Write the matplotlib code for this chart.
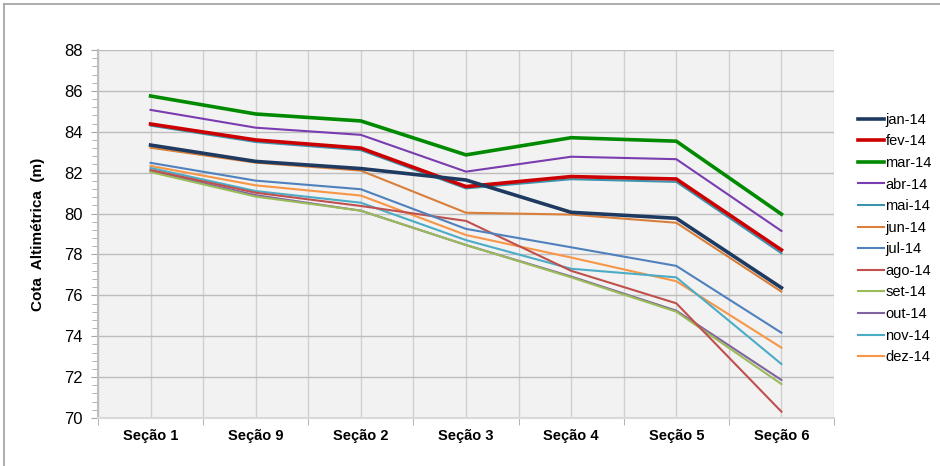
import matplotlib.pyplot as plt
import numpy as np
from matplotlib.ticker import MultipleLocator
from matplotlib.lines import Line2D

secoes = ["Seção 1", "Seção 9", "Seção 2", "Seção 3", "Seção 4", "Seção 5", "Seção 6"]

jan = [83.35, 82.55, 82.20, 81.64, 80.06, 79.77, 76.37]
fev = [84.38, 83.60, 83.20, 81.32, 81.81, 81.69, 78.22]
mar = [85.75, 84.87, 84.53, 82.87, 83.71, 83.54, 79.97]
abr = [85.07, 84.20, 83.85, 82.05, 82.78, 82.66, 79.15]
mai = [84.30, 83.50, 83.10, 81.23, 81.68, 81.55, 78.06]
jun = [83.22, 82.49, 82.10, 80.04, 79.95, 79.55, 76.18]
jul = [82.48, 81.61, 81.19, 79.25, 78.35, 77.44, 74.17]
ago = [82.13, 81.02, 80.37, 79.64, 77.20, 75.61, 70.31]
set_ = [82.03, 80.83, 80.14, 78.46, 76.88, 75.20, 71.66]
out = [82.08, 80.90, 80.14, 78.46, 76.92, 75.25, 71.86]
nov = [82.23, 81.10, 80.53, 78.70, 77.30, 76.88, 72.64]
dez = [82.33, 81.38, 80.88, 78.95, 77.85, 76.69, 73.44]

series = [
    ("jan-14", jan, "#1F3A60", 2.6),
    ("fev-14", fev, "#CC0000", 2.6),
    ("mar-14", mar, "#008A00", 2.6),
    ("abr-14", abr, "#7A3DB0", 1.5),
    ("mai-14", mai, "#3C93AE", 1.5),
    ("jun-14", jun, "#D97F3A", 1.5),
    ("jul-14", jul, "#4F81BD", 1.5),
    ("ago-14", ago, "#C0504D", 1.5),
    ("set-14", set_, "#9BBB59", 1.5),
    ("out-14", out, "#8064A2", 1.5),
    ("nov-14", nov, "#4BACC6", 1.5),
    ("dez-14", dez, "#F79646", 1.5),
]

plt.rcParams['font.family'] = ['Liberation Sans', 'DejaVu Sans']

fig = plt.figure(figsize=(9.4, 4.66), dpi=100)
ax = fig.add_axes([98 / 940, 1 - 418 / 466, (834 - 98) / 940, (418 - 50) / 466])
ax.set_facecolor("#F2F2F2")

x = np.arange(len(secoes))
# draw from last to first so the thick series sit on top
for nome, vals, cor, lw in reversed(series):
    ax.plot(x, vals, color=cor, lw=lw, label=nome, solid_joinstyle="miter")

ax.set_xlim(-0.5, len(secoes) - 0.5)
ax.set_ylim(70, 88)
ax.yaxis.set_major_locator(MultipleLocator(2))
ax.yaxis.set_minor_locator(MultipleLocator(0.4))
ax.set_xticks(x)
ax.set_xticklabels(secoes, fontweight="bold", fontsize=10.5)
ax.set_xticks(np.arange(-0.5, len(secoes), 1.0), minor=True)
ax.tick_params(axis="x", which="major", length=0, pad=8)
ax.tick_params(axis="x", which="minor", length=5, color="#A6A6A6", direction="out")
ax.tick_params(axis="y", which="major", length=5, color="#A6A6A6", labelsize=12, pad=6)
ax.tick_params(axis="y", which="minor", length=4, color="#A6A6A6")

# grid
for v in np.arange(-0.5, len(secoes), 0.5):
    ax.axvline(v, color="#CFCFCF", lw=1.0, zorder=0)
ax.grid(axis="y", which="major", color="#BDBDBD", lw=1.0, zorder=0)
ax.set_axisbelow(True)

for s in ["top", "right"]:
    ax.spines[s].set_visible(False)
ax.spines["left"].set_color("#BFBFBF")
ax.spines["left"].set_linewidth(1.5)
ax.spines["bottom"].set_color("#D9D9D9")
ax.spines["bottom"].set_linewidth(1.5)

ax.set_ylabel("Cota  Altimétrica  (m)", fontweight="bold", fontsize=11, labelpad=14)

handles = [Line2D([], [], color=c, lw=lw) for _, _, c, lw in series]
labels = [n for n, _, _, _ in series]
leg = fig.legend(handles, labels, loc="upper left", bbox_to_anchor=(852 / 940, 1 - 107 / 466),
                 frameon=False, fontsize=10.5, handlelength=1.8, handletextpad=0.1,
                 labelspacing=0.52, borderaxespad=0)

# outer chart frame (top and left edges visible)
fig.add_artist(Line2D([4 / 940, 1], [1 - 4 / 466, 1 - 4 / 466], color="#A0A0A0", lw=1.2))
fig.add_artist(Line2D([4 / 940, 4 / 940], [0, 1 - 4 / 466], color="#A0A0A0", lw=1.2))

fig.savefig("out.png", dpi=100)
